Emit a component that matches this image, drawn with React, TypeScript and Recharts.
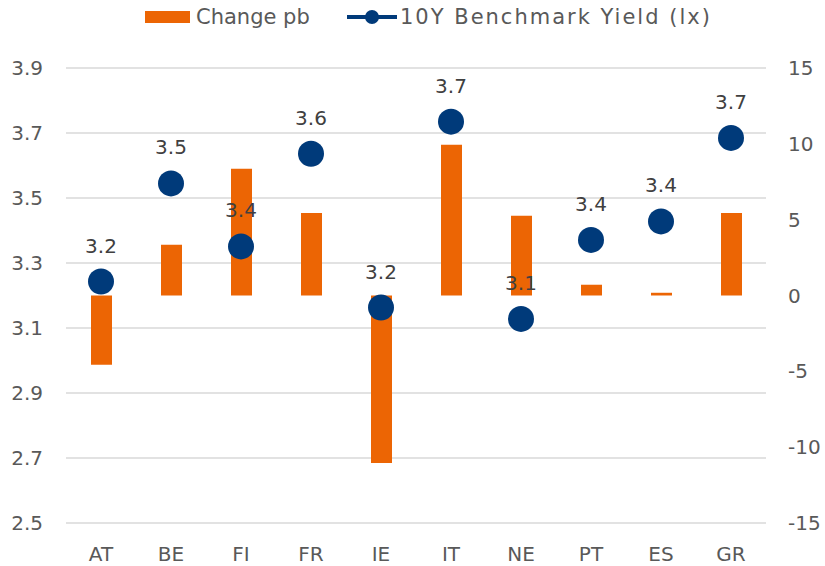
import React from 'react';
import {
  ComposedChart,
  Bar,
  Line,
  XAxis,
  YAxis,
  CartesianGrid,
  LabelList,
} from 'recharts';

const countries = ['AT', 'BE', 'FI', 'FR', 'IE', 'IT', 'NE', 'PT', 'ES', 'GR'];
const changePb = [-4.56, 3.35, 8.36, 5.44, -11.04, 9.94, 5.26, 0.71, 0.18, 5.44];
const benchmarkYield = [3.243, 3.545, 3.351, 3.636, 3.163, 3.735, 3.128, 3.371, 3.428, 3.685];
const leftTicks = [2.5, 2.7, 2.9, 3.1, 3.3, 3.5, 3.7, 3.9];
const rightTicks = [-15, -10, -5, 0, 5, 10, 15];

const ORANGE = '#EC6504';
const BLUE = '#003A7A';
const TEXT = '#595959';
const FONT = '"DejaVu Sans", sans-serif';

const data = countries.map((name, i) => ({
  name,
  change: changePb[i],
  yield: benchmarkYield[i],
}));

// legend drawn on top of the chart so it doesn't push the plot down
function ChartLegend() {
  return (
    <svg width={825} height={36} style={{ position: 'absolute', left: 0, top: 0 }}>
      <rect x={145} y={11} width={45} height={12} fill={ORANGE} />
      <text x={196} y={17} dominantBaseline="central" fontSize={21} fill={TEXT} fontFamily={FONT}>
        Change pb
      </text>
      <line x1={347} x2={397} y1={17} y2={17} stroke={BLUE} strokeWidth={4} />
      <circle cx={372} cy={17} r={7} fill={BLUE} />
      <text
        x={400}
        y={17}
        dominantBaseline="central"
        fontSize={21}
        letterSpacing={2}
        fill={TEXT}
        fontFamily={FONT}
      >
        10Y Benchmark Yield (lx)
      </text>
    </svg>
  );
}

function YieldLabel(props: any) {
  const { x, y, value } = props;
  return (
    <text
      x={x}
      y={y - 36}
      textAnchor="middle"
      dominantBaseline="central"
      fontSize={20}
      fill="#404040"
      fontFamily={FONT}
    >
      {Number(value).toFixed(1)}
    </text>
  );
}

export default function App() {
  return (
    <div style={{ position: 'absolute', left: 0, top: 0, width: 825, height: 566, background: '#fff' }}>
      <ComposedChart
        width={825}
        height={566}
        data={data}
        margin={{ top: 68, right: 0, bottom: 0, left: 0 }}
      >
        <CartesianGrid yAxisId="left" vertical={false} stroke="#D9D9D9" strokeWidth={1.5} />
        <XAxis
          dataKey="name"
          axisLine={false}
          tickLine={false}
          height={43}
          tickMargin={18}
          interval={0}
          tick={{ fontSize: 20, fill: TEXT, fontFamily: FONT }}
        />
        <YAxis
          yAxisId="left"
          orientation="left"
          domain={[2.5, 3.9]}
          ticks={leftTicks}
          width={66}
          axisLine={false}
          tickLine={false}
          tickMargin={17}
          tickFormatter={(v: number) => v.toFixed(1)}
          tick={{ fontSize: 20, fill: TEXT, fontFamily: FONT }}
        />
        <YAxis
          yAxisId="right"
          orientation="right"
          domain={[-15, 15]}
          ticks={rightTicks}
          width={59}
          axisLine={false}
          tickLine={false}
          tickMargin={16}
          tick={{ fontSize: 20, fill: TEXT, fontFamily: FONT }}
        />
        <Bar
          yAxisId="right"
          dataKey="change"
          name="Change pb"
          fill={ORANGE}
          barSize={21}
          isAnimationActive={false}
        />
        <Line
          yAxisId="left"
          dataKey="yield"
          name="10Y Benchmark Yield (lx)"
          stroke="none"
          dot={{ r: 13, fill: BLUE, stroke: 'none' }}
          activeDot={false}
          isAnimationActive={false}
        >
          <LabelList dataKey="yield" content={<YieldLabel />} />
        </Line>
      </ComposedChart>
      <ChartLegend />
    </div>
  );
}
